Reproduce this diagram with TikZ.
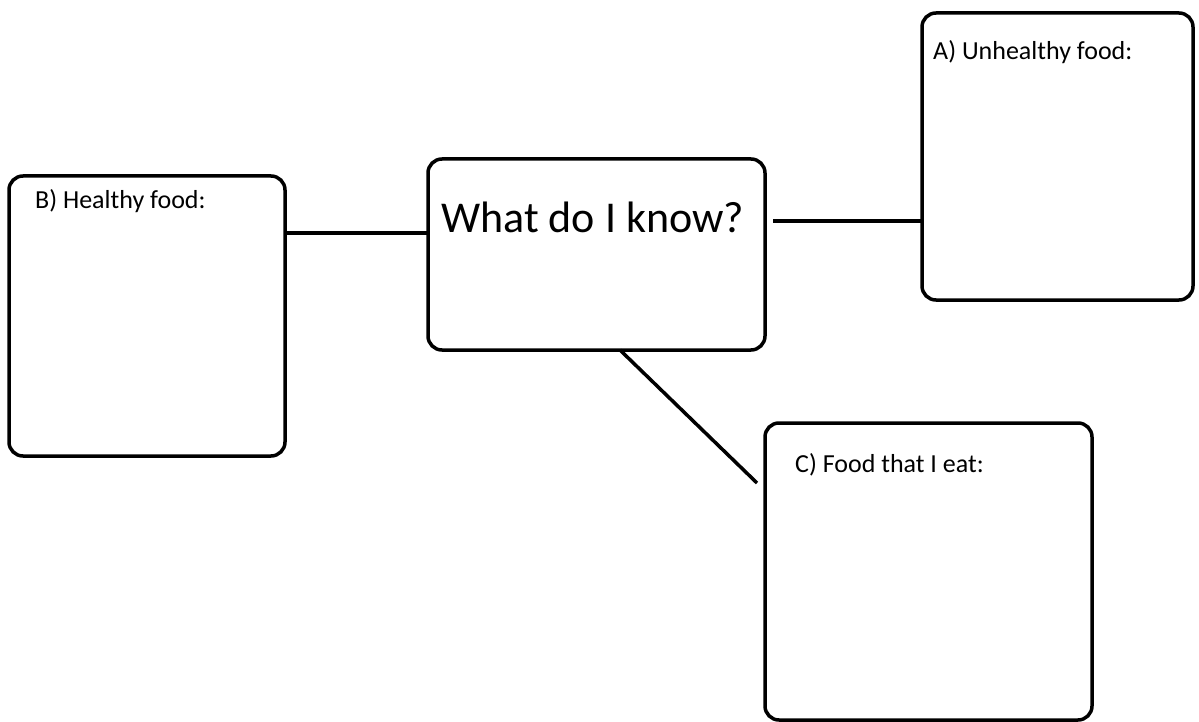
\documentclass[tikz,border=0pt]{standalone}
\usepackage{fontspec}
\setmainfont{Carlito}
\tikzset{
  box/.style={draw=black, line width=3.5pt, rounded corners=14pt, fill=white, inner sep=0pt, outer sep=0pt},
  link/.style={draw=black, line width=3.5pt},
  small/.style={anchor=base west, inner sep=0pt, font=\fontsize{26}{30}\selectfont},
  big/.style={anchor=base west, inner sep=0pt, font=\fontsize{44}{50}\selectfont}
}
\begin{document}
\begin{tikzpicture}[x=1pt,y=-1pt]
\useasboundingbox (0,0) rectangle (1199,722);
\fill[white] (0,0) rectangle (1199,722);
% boxes
\node[box, minimum width=276pt, minimum height=280pt] (B) at (147,316) {};
\node[box, minimum width=337pt, minimum height=191pt] (M) at (596.5,254.5) {};
\node[box, minimum width=271pt, minimum height=287pt] (A) at (1057.5,156.5) {};
\node[box, minimum width=327pt, minimum height=297pt] (C) at (928.5,571.5) {};
% texts
\node[small] (tB) at (35,208) {B) Healthy food:};
\node[big] (tM) at (441,233) {What do I know?};
\node[small] (tA) at (933,60) {A) Unhealthy food:};
\node[small] (tC) at (795,472) {C) Food that I eat:};
% connectors
\draw[link] ([yshift=83pt]B.east) -- ([yshift=21.5pt]M.west);
\draw[link] ([xshift=8pt,yshift=33.5pt]M.east) -- ([yshift=-64.5pt]A.west);
\draw[link] ([xshift=23.5pt]M.south) -- ([xshift=-8pt,yshift=88.5pt]C.west);
\end{tikzpicture}
\end{document}
